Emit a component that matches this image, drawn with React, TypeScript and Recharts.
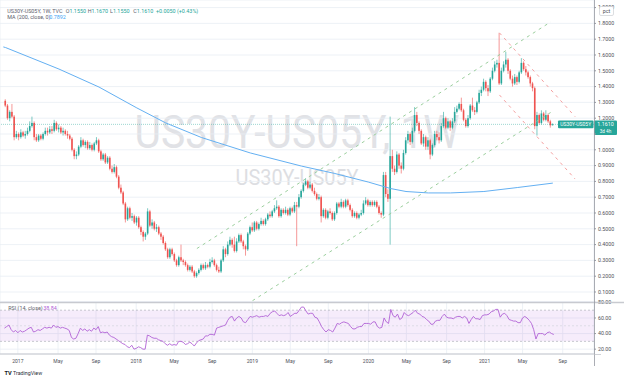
import React from 'react';
import {
  ComposedChart,
  Bar,
  Line,
  XAxis,
  YAxis,
  CartesianGrid,
  ReferenceLine,
  ReferenceArea,
} from 'recharts';

const UP = '#26a69a';
const DOWN = '#ef5350';
const GRID = '#e8edf4';
const LABEL = '#4e5059';
const FONT = 'Roboto, "Liberation Sans", Arial, sans-serif';

// weekly bars, week of 14 Nov 2016 .. week of 2 Aug 2021, in hundredths of a pct point
// open of a week is the close of the week before
const firstOpen = 131;
const closes = [
  128, 120, 124, 121, 108, 110, 108, 111, 109, 110,
  112, 115, 117, 108, 106, 109, 107, 110, 112, 111,
  113, 112, 117, 113, 114, 111, 112, 110, 109, 107,
  100, 96, 97, 102, 106, 103, 105, 101, 103, 100,
  104, 106, 99, 94, 97, 92, 95, 88, 86, 89,
  83, 76, 73, 66, 56, 63, 57, 58, 54, 57,
  51, 48, 45, 47, 61, 52, 54, 50, 51, 47,
  45, 41, 37, 32, 37, 34, 30, 27, 32, 30,
  29, 27, 24, 26, 23, 20, 22, 24, 27, 25,
  27, 26, 29, 30, 27, 24, 23, 30, 37, 34,
  40, 43, 40, 36, 42, 46, 42, 39, 37, 47,
  51, 49, 54, 50, 53, 55, 53, 56, 59, 58,
  61, 63, 64, 58, 62, 60, 62, 59, 63, 61,
  65, 64, 70, 74, 78, 80, 76, 78, 74, 72,
  69, 70, 58, 62, 57, 61, 60, 56, 60, 66,
  64, 67, 64, 68, 65, 62, 58, 60, 57, 59,
  60, 66, 68, 65, 67, 65, 67, 64, 60, 59,
  84, 72, 69, 96, 88, 86, 97, 90, 88, 98,
  106, 110, 105, 112, 122, 117, 112, 104, 108, 102,
  106, 97, 103, 110, 108, 106, 115, 120, 114, 118,
  114, 118, 124, 126, 129, 125, 119, 115, 120, 128,
  125, 124, 130, 136, 138, 143, 139, 137, 145, 150,
  154, 155, 142, 150, 154, 157, 150, 145, 142, 146,
  143, 149, 155, 151, 149, 146, 142, 139, 115, 122,
  117, 123, 119, 122, 118, 115.5, 116.1,
];
const highs = [
  132, 129, 125, 129, 122, 112, 111, 113, 112, 112,
  114, 118, 121, 118, 110, 110, 110, 111, 114, 114,
  115, 115, 119, 118, 116, 115, 114, 113, 112, 110,
  108, 101, 99, 103, 108, 107, 106, 106, 105, 104,
  105, 108, 107, 100, 98, 98, 96, 96, 90, 91,
  90, 84, 78, 74, 67, 64, 64, 60, 59, 58,
  58, 52, 49, 48, 63, 62, 56, 55, 53, 52,
  48, 46, 42, 38, 38, 38, 35, 31, 33, 40,
  31, 30, 28, 27, 27, 24, 23, 25, 28, 28,
  29, 28, 31, 32, 31, 28, 26, 31, 39, 38,
  42, 45, 44, 45, 44, 47, 47, 43, 40, 48,
  52, 54, 55, 55, 54, 57, 56, 57, 60, 61,
  62, 65, 68, 65, 63, 63, 64, 63, 64, 64,
  67, 67, 72, 75, 79, 82, 81, 80, 79, 76,
  73, 72, 71, 63, 63, 62, 63, 61, 61, 67,
  67, 69, 68, 69, 69, 66, 63, 61, 61, 60,
  62, 68, 70, 69, 68, 68, 68, 68, 65, 61,
  86, 86, 75, 121, 100, 90, 99, 98, 92, 100,
  108, 112, 111, 114, 127, 124, 118, 113, 110, 109,
  108, 107, 104, 112, 112, 111, 117, 124, 121, 120,
  119, 120, 127, 128, 130, 133, 126, 120, 122, 129,
  133, 127, 131, 138, 140, 145, 144, 141, 146, 152,
  156, 157, 174, 152, 156, 162, 158, 151, 147, 148,
  147, 150, 158, 156, 153, 150, 147, 143, 140, 124,
  123, 125, 124, 125, 123, 119, 116.7,
];
const lows = [
  127, 119, 118, 120, 106, 107, 106, 107, 108, 107,
  109, 111, 114, 106, 105, 105, 106, 106, 109, 109,
  110, 110, 111, 112, 111, 110, 109, 109, 107, 106,
  99, 94, 94, 96, 101, 102, 101, 100, 100, 99,
  99, 103, 98, 93, 93, 91, 91, 87, 85, 85,
  82, 75, 72, 65, 54, 55, 56, 55, 53, 52,
  50, 46, 42, 43, 46, 51, 50, 49, 48, 46,
  43, 40, 36, 31, 31, 33, 29, 26, 26, 29,
  27, 26, 23, 23, 22, 19, 19, 21, 23, 24,
  24, 25, 25, 28, 26, 23, 22, 22, 29, 32,
  33, 39, 38, 35, 35, 41, 41, 37, 33, 36,
  46, 48, 48, 49, 49, 52, 52, 52, 55, 57,
  57, 60, 62, 57, 57, 59, 59, 58, 58, 60,
  60, 39, 63, 69, 73, 77, 75, 75, 73, 71,
  68, 68, 54, 57, 56, 56, 59, 55, 55, 59,
  63, 63, 63, 63, 64, 61, 57, 57, 56, 56,
  58, 59, 65, 64, 64, 64, 64, 63, 59, 57,
  58, 70, 67, 40, 86, 84, 85, 88, 85, 87,
  97, 104, 103, 104, 111, 115, 110, 103, 102, 100,
  100, 94, 96, 102, 106, 104, 105, 114, 113, 113,
  112, 113, 117, 123, 125, 124, 118, 114, 114, 119,
  124, 122, 123, 129, 134, 137, 137, 134, 136, 144,
  149, 152, 141, 141, 149, 152, 148, 144, 140, 141,
  141, 142, 148, 150, 147, 145, 140, 137, 113, 109,
  116, 116, 118, 118, 117, 114, 115.5,
];
const rsi14 = [
  47, 49, 51, 45, 42, 44, 41, 44, 42, 43,
  45, 47, 48, 42, 43, 45, 44, 46, 48, 47,
  48, 47, 51, 48, 49, 47, 48, 47, 46, 44,
  35, 33, 34, 40, 47, 44, 46, 43, 45, 43,
  47, 45, 49, 41, 42, 41, 42, 38, 36, 35,
  33, 31, 29, 27, 26, 23, 22, 25, 20, 21,
  23, 22, 20, 20, 38, 37, 35, 34, 34, 32,
  31, 30, 27, 25, 27, 25, 26, 25, 30, 30,
  29, 26, 27, 29, 27, 24, 28, 31, 32, 33,
  37, 37, 39, 39, 38, 47, 48, 49, 50, 51,
  57, 61, 62, 56, 60, 62, 60, 55, 54, 58,
  62, 61, 62, 63, 61, 62, 62, 63, 62, 66,
  68, 69, 66, 63, 64, 63, 64, 67, 62, 64,
  66, 66, 70, 74, 74, 69, 65, 66, 66, 61,
  60, 55, 49, 45, 42, 45, 44, 42, 47, 53,
  52, 54, 55, 54, 53, 49, 46, 46, 48, 49,
  49, 53, 53, 53, 52, 55, 55, 49, 47, 48,
  60, 55, 53, 71, 63, 61, 65, 58, 60, 67,
  64, 63, 65, 67, 70, 66, 65, 62, 61, 58,
  56, 52, 52, 56, 57, 57, 62, 65, 61, 60,
  60, 59, 61, 62, 62, 60, 62, 60, 53, 58,
  62, 59, 59, 58, 63, 64, 64, 65, 68, 69,
  71, 71, 61, 65, 66, 63, 58, 57, 56, 56,
  54, 54, 60, 62, 60, 57, 53, 45, 33, 40,
  40, 40, 38, 41, 42, 40, 38.84,
];

// MA (200, close) read at a few weeks; the line joins them
const maWeeks = [-1, 0, 24, 42, 59, 72, 88, 110, 133, 148, 163, 173, 180, 190, 200, 215, 230, 246];
const maValues = [1.651, 1.647, 1.511, 1.397, 1.265, 1.17, 1.078, 0.98, 0.897, 0.85, 0.796, 0.755, 0.736, 0.727, 0.727, 0.736, 0.761, 0.7892];

const tickWeeks = [6, 24, 41, 59, 76, 93, 111, 128, 145, 163, 180, 198, 215, 232, 250];
const tickLabels = ['2017', 'May', 'Sep', '2018', 'May', 'Sep', '2019', 'May', 'Sep', '2020', 'May', 'Sep', '2021', 'May', 'Sep'];
const priceTicks = [0.1, 0.2, 0.3, 0.4, 0.5, 0.6, 0.7, 0.8, 0.9, 1.0, 1.1, 1.2, 1.3, 1.4, 1.5, 1.6, 1.7, 1.8, 1.9];
const rsiTicks = [20, 40, 60, 80];

// drawn trend channels, [week, value]
const greenUpper = [[86, 0.375], [245, 1.809]];
const greenLower = [[111, 0.045], [245, 1.236]];
const redUpper = [[222, 1.74], [256, 1.21]];
const redLower = [[222, 1.347], [256, 0.815]];

const lastPrice = 1.161;

const rows: any[] = [];
for (let i = -2; i <= 264; i++) {
  const has = i >= 0 && i < closes.length;
  const m = maWeeks.indexOf(i);
  rows.push({
    i,
    o: has ? (i === 0 ? firstOpen : closes[i - 1]) / 100 : null,
    h: has ? highs[i] / 100 : null,
    l: has ? lows[i] / 100 : null,
    c: has ? closes[i] / 100 : null,
    ma: m >= 0 ? maValues[m] : null,
    rsi: has ? rsi14[i] : null,
  });
}

function Candle(props: any) {
  const { x, y, width, height, payload } = props;
  if (!payload || payload.c == null || !height) return null;
  const { o, h, l, c } = payload;
  const k = height / (h - l);
  const top = y + (h - Math.max(o, c)) * k;
  const bot = y + (h - Math.min(o, c)) * k;
  const cx = x + width / 2;
  const col = c >= o ? UP : DOWN;
  return (
    <g>
      <line x1={cx} x2={cx} y1={y} y2={y + height} stroke={col} strokeWidth={0.6} />
      <rect x={x} y={top} width={width} height={Math.max(0.7, bot - top)} fill={col} />
    </g>
  );
}

function PriceTag(props: any) {
  const { x, y, width } = props.viewBox;
  const ax = x + width;
  return (
    <g fontFamily={FONT}>
      <rect x={ax - 36} y={y - 3.8} width={35.5} height={7.8} rx={1} fill={UP} />
      <text x={ax - 18.3} y={y + 1.8} fontSize={5} fill="#fff" textAnchor="middle">US30Y-US05Y</text>
      <rect x={ax} y={y - 3.8} width={23} height={14.5} rx={1} fill={UP} />
      <text x={ax + 11.5} y={y + 1.9} fontSize={5.3} fill="#fff" textAnchor="middle">1.1610</text>
      <text x={ax + 11.5} y={y + 8.2} fontSize={4.6} fill="#fff" textAnchor="middle">3d 4h</text>
    </g>
  );
}

// the 1.1000 and 1.9000 labels sit under the price tag and the pct box
const priceLabel = (v: number) => (v === 1.1 ? '' : v.toFixed(4));

const seg = (s: number[][]) => [{ x: s[0][0], y: s[0][1] }, { x: s[1][0], y: s[1][1] }];

export default function App() {
  return (
    <div style={{ position: 'absolute', left: 0, top: 0, width: 624, height: 382, background: '#fff', overflow: 'hidden', fontFamily: FONT }}>
      <svg width={624} height={302} style={{ position: 'absolute', left: 0, top: 0 }} fontFamily={FONT}>
        <text x={297} y={148} textAnchor="middle" fontSize={47} textLength={325} lengthAdjust="spacingAndGlyphs" fill="#e1e2e6">US30Y-US05Y, 1W</text>
        <text x={297} y={185} textAnchor="middle" fontSize={22.5} textLength={123} lengthAdjust="spacingAndGlyphs" fill="#dddee2">US30Y-US05Y</text>
      </svg>

      <div style={{ position: 'absolute', left: 0, top: 0 }}>
        <ComposedChart width={624} height={302} data={rows} margin={{ top: 0, right: 0, bottom: 0, left: 0 }}>
          <CartesianGrid stroke={GRID} strokeWidth={0.8} />
          <XAxis dataKey="i" type="category" ticks={tickWeeks} interval={0} height={0} tick={false} tickLine={false} axisLine={false} />
          <YAxis
            orientation="right"
            type="number"
            width={30}
            domain={[0.0367, 1.948]}
            allowDataOverflow
            ticks={priceTicks}
            interval={0}
            tickFormatter={priceLabel}
            tick={{ fontSize: 5.3, fill: LABEL }}
            tickSize={2}
            tickMargin={2}
            tickLine={{ stroke: '#9598a1' }}
            axisLine={false}
          />
          <ReferenceLine y={lastPrice} stroke={UP} strokeOpacity={0.45} strokeDasharray="1 1" label={<PriceTag />} />
          <ReferenceLine segment={seg(greenUpper)} stroke="#9ccf9e" strokeDasharray="3 4" />
          <ReferenceLine segment={seg(greenLower)} stroke="#9ccf9e" strokeDasharray="3 4" />
          <ReferenceLine segment={seg(redUpper)} stroke="#f4a1a1" strokeDasharray="3 4" />
          <ReferenceLine segment={seg(redLower)} stroke="#f4a1a1" strokeDasharray="3 4" />
          <Line dataKey="ma" stroke="#64b0f2" strokeWidth={1} dot={false} activeDot={false} connectNulls isAnimationActive={false} />
          <Bar dataKey={(d: any) => (d.c == null ? null : [d.l, d.h])} shape={<Candle />} barSize={1.6} isAnimationActive={false} />
        </ComposedChart>
      </div>

      <div style={{ position: 'absolute', left: 0, top: 292 }}>
        <ComposedChart width={624} height={76} data={rows} margin={{ top: 10, right: 0, bottom: 0, left: 0 }}>
          <CartesianGrid stroke={GRID} strokeWidth={0.8} />
          <ReferenceArea y1={30} y2={70} fill="#a547d6" fillOpacity={0.1} strokeOpacity={0} />
          <ReferenceLine y={70} stroke="#a3a6ae" strokeDasharray="2 2" strokeWidth={0.6} />
          <ReferenceLine y={50} stroke="#cdd0d6" strokeDasharray="2 2" strokeWidth={0.6} />
          <ReferenceLine y={30} stroke="#a3a6ae" strokeDasharray="2 2" strokeWidth={0.6} />
          <XAxis
            dataKey="i"
            type="category"
            ticks={tickWeeks}
            interval={0}
            height={14}
            tickFormatter={(v: number) => tickLabels[tickWeeks.indexOf(v)]}
            tick={{ fontSize: 5, fill: LABEL }}
            tickSize={0}
            tickMargin={5}
            axisLine={{ stroke: '#c4c6cc' }}
          />
          <YAxis
            orientation="right"
            type="number"
            width={30}
            domain={[13.8, 80.5]}
            allowDataOverflow
            ticks={rsiTicks}
            interval={0}
            tickFormatter={(v: number) => v.toFixed(2)}
            tick={{ fontSize: 5.3, fill: LABEL }}
            tickSize={2}
            tickMargin={2}
            tickLine={{ stroke: '#9598a1' }}
            axisLine={false}
          />
          <Line dataKey="rsi" stroke="#b162d6" strokeWidth={0.9} dot={false} activeDot={false} isAnimationActive={false} />
        </ComposedChart>
      </div>

      <svg width={624} height={382} style={{ position: 'absolute', left: 0, top: 0, pointerEvents: 'none' }} fontFamily={FONT}>
        <line x1={0} x2={624} y1={302.5} y2={302.5} stroke="#c8cad0" strokeWidth={1.4} />
        <line x1={594.5} x2={594.5} y1={0} y2={366} stroke="#9598a1" strokeWidth={0.8} />
        <line x1={594.5} x2={601} y1={354.5} y2={354.5} stroke="#c4c6cc" strokeWidth={0.8} />

        <text y={13} fontSize={5.4} fill="#5d606b">
          <tspan x={7.3}>US30Y-US05Y, 1W, TVC</tspan>
          <tspan x={65.7}>O</tspan><tspan fill={UP}>1.1550</tspan>
          <tspan x={87.7}>H</tspan><tspan fill={UP}>1.1670</tspan>
          <tspan x={110}>L</tspan><tspan fill={UP}>1.1550</tspan>
          <tspan x={133.3}>C</tspan><tspan fill={UP}>1.1610</tspan>
          <tspan x={156} fill={UP}>+0.0050 (+0.43%)</tspan>
        </text>
        <text y={19.3} fontSize={5.4} fill="#5d606b">
          <tspan x={7.3}>MA (200, close, 0)</tspan>
          <tspan x={49.3} fill="#42a5f5">0.7892</tspan>
        </text>

        <text y={310} fontSize={5.4} fill="#5d606b">
          <tspan x={8.3}>RSI (14, close)</tspan>
          <tspan x={43.3} fill="#b162d6">38.84</tspan>
        </text>

        <rect x={599.5} y={6.5} width={14} height={9} rx={1.5} fill="#fff" stroke="#c5c7cc" strokeWidth={0.6} />
        <text x={606.5} y={12.9} fontSize={5.3} fill={LABEL} textAnchor="middle">pct</text>

        <text x={4.5} y={375} fontSize={5.6} fontWeight={700} fill="#131722">TV</text>
        <text x={13} y={375} fontSize={5.3} fill="#2a2e39">TradingView</text>
      </svg>
    </div>
  );
}
